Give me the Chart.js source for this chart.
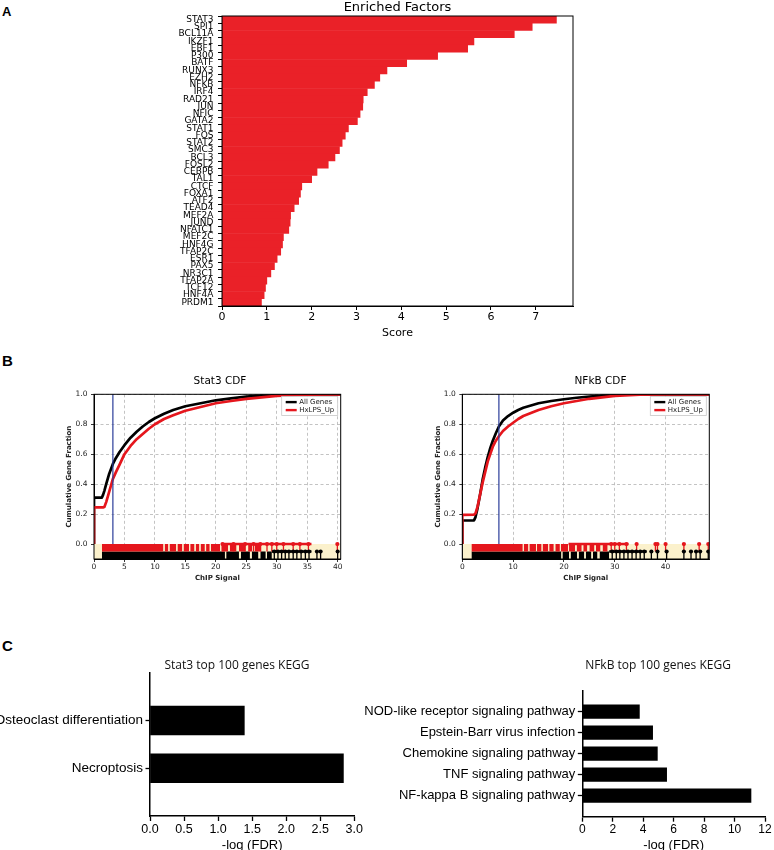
<!DOCTYPE html>
<html>
<head>
<meta charset="utf-8">
<title>Enriched factors, CDF and KEGG</title>
<script src="https://cdn.jsdelivr.net/npm/chart.js@4.4.1/dist/chart.umd.min.js"></script>
<style>
  html, body { margin: 0; padding: 0; background: #fff; }
  body { position: relative; width: 774px; height: 850px; overflow: hidden; }
  .box { position: absolute; }
  .tag { position: absolute; font: bold 15px "Liberation Sans", Arial, sans-serif; line-height: 1; color: #000; }
</style>
</head>
<body>

<div class="tag" style="left:2px;top:5px;font-size:13px">A</div>
<div class="tag" style="left:2px;top:353px">B</div>
<div class="tag" style="left:2px;top:638px">C</div>

<div class="box" style="left:150px;top:0px;width:440px;height:345px"><canvas id="factorChart"></canvas></div>
<div class="box" style="left:40px;top:368px;width:360px;height:218px"><canvas id="stat3Cdf"></canvas></div>
<div class="box" style="left:410px;top:368px;width:381px;height:218px"><canvas id="nfkbCdf"></canvas></div>
<div class="box" style="left:0px;top:640px;width:474px;height:220px"><canvas id="stat3Kegg"></canvas></div>
<div class="box" style="left:360px;top:640px;width:596px;height:220px"><canvas id="nfkbKegg"></canvas></div>

<script>
// ---- data ----

const factorNames = [
    "STAT3", "SPI1", "BCL11A", "IKZF1", "EBF1", "P300", "BATF", "RUNX3",
    "EZH2", "NFKB", "IRF4", "RAD21", "JUN", "NFIC", "GATA2", "STAT1",
    "FOS", "STAT2", "SMC3", "BCL3", "FOSL2", "CEBPB", "TAL1", "CTCF",
    "FOXA1", "ATF2", "TEAD4", "MEF2A", "JUND", "NFATC1", "MEF2C", "HNF4G",
    "TFAP2C", "ESR1", "PAX5", "NR3C1", "TFAP2A", "TCF12", "HNF4A", "PRDM1"
];
const factorScores = [
    7.46, 6.92, 6.52, 5.62, 5.48, 4.81, 4.12, 3.68,
    3.52, 3.40, 3.24, 3.15, 3.14, 3.08, 3.02, 2.82,
    2.75, 2.68, 2.62, 2.52, 2.37, 2.12, 2.00, 1.78,
    1.75, 1.71, 1.61, 1.53, 1.52, 1.49, 1.37, 1.35,
    1.31, 1.23, 1.17, 1.09, 1.00, 0.97, 0.94, 0.88
];
const scoreTicks = [0, 1, 2, 3, 4, 5, 6, 7];

const seriesNames = ["All Genes", "HxLPS_Up"];
const fractionTicks = [0, 0.2, 0.4, 0.6, 0.8, 1.0];

// Stat3 CDF
const stat3Signal = [0, 0, 1.3, 1.5, 1.7, 2.0, 2.5, 3.1, 3.6, 4.2, 5, 6, 7, 8, 9, 10,
    11.5, 13, 15, 17.5, 20, 22.5, 25, 27.5, 30, 35, 40.5];
const stat3AllGenes = [0, 0.31, 0.31, 0.33, 0.355, 0.40, 0.47, 0.535, 0.575, 0.615, 0.66, 0.71, 0.75, 0.785, 0.815, 0.84,
    0.87, 0.895, 0.92, 0.94, 0.96, 0.973, 0.985, 0.993, 0.998, 1, 1];
const stat3HxLpsUp = [0, 0.245, 0.245, 0.245, 0.247, 0.28, 0.35, 0.435, 0.48, 0.53, 0.60, 0.655, 0.70, 0.735, 0.77, 0.80,
    0.835, 0.86, 0.89, 0.915, 0.94, 0.955, 0.97, 0.98, 0.99, 0.998, 1];
const stat3SignalTicks = [0, 5, 10, 15, 20, 25, 30, 35, 40];
const stat3Cutoff = 3.1;
const stat3RedSpans = [[1.3, 11.4], [11.6, 12.2], [12.4, 13.5], [13.7, 14.5], [14.7, 15.6], [15.8, 16.5],
    [16.7, 17.3], [17.5, 18.2], [18.4, 19.0], [19.2, 20.7], [20.9, 22.0], [22.3, 23.4], [23.8, 24.9],
    [25.3, 26.0], [26.4, 27.5]];
const stat3RedTicks = [21.1, 22.9, 24.8, 26.2, 27.3, 28.4, 29.2, 30.0, 31.1, 32.7, 33.8, 35.2, 39.95];
const stat3RedCap = [21.1, 35.7];
const stat3BlackSpans = [[1.3, 21.5], [21.7, 23.8], [24.1, 25.6], [25.9, 27.0], [27.3, 28.2], [28.4, 29.2]];
const stat3BlackTicks = [29.6, 30.2, 30.8, 31.4, 32.0, 32.7, 33.3, 34.0, 34.7, 35.3, 36.6, 37.2, 40.0];
const stat3BlackCap = [29.2, 35.7];

// NFkB CDF
const nfkbSignal = [0, 0, 2.3, 2.6, 3, 3.5, 4, 4.5, 5, 5.5, 6, 6.6, 7.2, 8, 9, 10,
    11, 12, 13.5, 15, 17.5, 20, 22.5, 25, 27.5, 30, 35, 40, 48.6];
const nfkbAllGenes = [0, 0.157, 0.158, 0.18, 0.24, 0.33, 0.43, 0.51, 0.58, 0.64, 0.69, 0.74, 0.785, 0.825, 0.855, 0.877,
    0.895, 0.91, 0.925, 0.94, 0.955, 0.967, 0.977, 0.985, 0.992, 0.997, 1, 1, 1];
const nfkbHxLpsUp = [0, 0.195, 0.196, 0.205, 0.25, 0.33, 0.41, 0.48, 0.55, 0.60, 0.65, 0.69, 0.72, 0.755, 0.785, 0.81,
    0.835, 0.855, 0.875, 0.895, 0.92, 0.94, 0.955, 0.97, 0.98, 0.99, 0.997, 1, 1];
const nfkbSignalTicks = [0, 10, 20, 30, 40];
const nfkbCutoff = 7.2;
const nfkbRedSpans = [[1.8, 11.9], [12.1, 13.0], [13.2, 14.5], [14.7, 15.6], [15.8, 16.9], [17.1, 18.0],
    [18.3, 19.2], [19.4, 20.8], [21.0, 22.2], [22.5, 23.5], [23.8, 24.6], [25.0, 26.0], [26.3, 27.2],
    [27.6, 28.6]];
const nfkbRedTicks = [29.3, 30.0, 30.9, 32.3, 34.3, 38.0, 38.4, 40.0, 43.6, 46.6, 48.4];
const nfkbRedCap = [20.9, 32.7];
const nfkbBlackSpans = [[1.8, 19.5], [19.7, 21.0], [21.3, 22.6], [22.9, 24.0], [24.3, 25.4], [25.7, 26.6], [27.0, 28.9]];
const nfkbBlackTicks = [29.5, 30.3, 31.0, 31.8, 32.6, 33.4, 34.2, 35.0, 35.8, 37.2, 38.4, 40.2, 43.6, 45.0, 46.0, 46.8, 48.4];
const nfkbBlackCap = [28.9, 36.3];

// KEGG
const stat3Pathways = ["Osteoclast differentiation", "Necroptosis"];
const stat3LogFdr = [1.385, 2.84];
const stat3FdrTicks = [0, 0.5, 1.0, 1.5, 2.0, 2.5, 3.0];

const nfkbPathways = [
    "NOD-like receptor signaling pathway",
    "Epstein-Barr virus infection",
    "Chemokine signaling pathway",
    "TNF signaling pathway",
    "NF-kappa B signaling pathway"
];
const nfkbLogFdr = [3.75, 4.62, 4.93, 5.54, 11.08];
const nfkbFdrTicks = [0, 2, 4, 6, 8, 10, 12];

// ---- styling ----

const MPL = '"DejaVu Sans", sans-serif';
const ARIAL = '"Liberation Sans", Arial, sans-serif';
const SOFT = '"Open Sans", sans-serif';

const RED = "#e5161d";
const BLACK = "#000000";
const BLUE = "#2b3d9a";
const BEIGE = "#fbf1cc";

const fixedTicks = values => scale => {
    scale.ticks = values.map(v => ({ value: v }));
};

// box round the plot area, like matplotlib spines
const framePlugin = {
    id: "frame",
    afterDatasetsDraw(chart, args, opts) {
        const { ctx, chartArea: a } = chart;
        ctx.save();
        ctx.strokeStyle = "#000";
        ctx.lineWidth = opts.width || 1;
        ctx.strokeRect(a.left, a.top, a.right - a.left, a.bottom - a.top);
        ctx.restore();
    }
};

// small framed legend inside the upper right corner
const cornerLegend = {
    id: "cornerLegend",
    afterDatasetsDraw(chart, args, opts) {
        if (!opts.items) return;
        const { ctx, chartArea: a } = chart;
        const w = 56, h = 19;
        const x0 = a.right - 3 - w;
        const y0 = a.top + 2.2;
        ctx.save();
        ctx.fillStyle = "rgba(255,255,255,0.92)";
        ctx.fillRect(x0, y0, w, h);
        ctx.strokeStyle = "#c8c8c8";
        ctx.lineWidth = 0.8;
        ctx.strokeRect(x0, y0, w, h);
        ctx.font = "7px " + MPL;
        ctx.textBaseline = "middle";
        opts.items.forEach((it, i) => {
            const y = y0 + 5.6 + i * 8;
            ctx.strokeStyle = it.color;
            ctx.lineWidth = 2.4;
            ctx.beginPath();
            ctx.moveTo(x0 + 4, y);
            ctx.lineTo(x0 + 15, y);
            ctx.stroke();
            ctx.fillStyle = "#222";
            ctx.fillText(it.text, x0 + 17.5, y);
        });
        ctx.restore();
    }
};

Chart.defaults.animation = false;

// ---- A: enriched factors ----

new Chart(document.getElementById("factorChart"), {
    type: "bar",
    data: {
        labels: factorNames,
        datasets: [{
            data: factorScores,
            backgroundColor: "#ea2128",
            barPercentage: 1,
            categoryPercentage: 1,
            borderWidth: 0
        }]
    },
    options: {
        indexAxis: "y",
        responsive: true,
        maintainAspectRatio: false,
        events: [],
        layout: { padding: { left: 0, top: 0, right: 17, bottom: 0 } },
        plugins: {
            legend: { display: false },
            tooltip: { enabled: false },
            title: {
                display: true,
                text: "Enriched Factors",
                fullSize: false,
                color: "#000",
                font: { family: MPL, size: 13, weight: "normal", lineHeight: 1.2 },
                padding: { top: 0, bottom: 0.4 }
            },
            frame: { width: 1 }
        },
        scales: {
            x: {
                type: "linear",
                min: 0,
                max: 7.83,
                afterBuildTicks: fixedTicks(scoreTicks),
                afterFit: s => { s.height = 39; },
                ticks: { font: { family: MPL, size: 11 }, color: "#000", padding: 1 },
                grid: { drawOnChartArea: false, drawTicks: true, tickLength: 4, tickColor: "#000" },
                border: { display: true, color: "#000", width: 1 },
                title: {
                    display: true, text: "Score", color: "#000",
                    font: { family: MPL, size: 11 },
                    padding: { top: 0, bottom: 5.4 }
                }
            },
            y: {
                afterFit: s => { s.width = 72; },
                ticks: { autoSkip: false, font: { family: MPL, size: 9 }, color: "#000", padding: 4.5 },
                grid: { drawOnChartArea: false, drawTicks: true, tickLength: 4, tickColor: "#000" },
                border: { display: true, color: "#000", width: 1 }
            }
        }
    },
    plugins: [framePlugin]
});

// ---- B: CDF panels ----

function rugSpans(spans, top, bottom, color) {
    return spans.map(s => ({
        data: [{ x: s[0], y: top }, { x: s[1], y: top }],
        fill: { value: bottom },
        backgroundColor: color,
        borderWidth: 0,
        pointRadius: 0,
        order: 15
    }));
}

function rugCap(range, y, color) {
    return {
        data: [{ x: range[0], y: y }, { x: range[1], y: y }],
        borderColor: color,
        borderWidth: 2.4,
        pointRadius: 0,
        fill: false,
        order: 12
    };
}

function rugStems(xs, y, color) {
    return {
        data: xs.map(x => ({ x: x, y: y })),
        showLine: false,
        pointStyle: "line",
        pointRotation: 90,
        pointRadius: 3.7,
        pointBorderWidth: 1.3,
        pointBorderColor: color,
        pointBackgroundColor: color,
        order: 13
    };
}

function rugMarkers(xs, y, color) {
    return {
        data: xs.map(x => ({ x: x, y: y })),
        showLine: false,
        pointStyle: "circle",
        pointRadius: 2.1,
        pointBorderWidth: 0,
        pointBackgroundColor: color,
        order: 11
    };
}

function cdfChart(id, c) {

    const curve = (ys, color, order) => ({
        data: c.signal.map((x, i) => ({ x: x, y: ys[i] })),
        borderColor: color,
        backgroundColor: color,
        borderWidth: 2.7,
        pointRadius: 0,
        tension: 0,
        borderJoinStyle: "round",
        fill: false,
        order: order
    });

    const datasets = [
        curve(c.all, BLACK, 4),
        curve(c.up, RED, 3),
        {
            data: [{ x: c.cut, y: 0 }, { x: c.cut, y: 1 }],
            borderColor: BLUE, borderWidth: 1.2, pointRadius: 0, fill: false, order: 1
        },
        {
            data: [{ x: 0, y: 0 }, { x: c.max, y: 0 }],
            fill: { value: -0.1 }, backgroundColor: BEIGE, borderWidth: 0, pointRadius: 0, order: 20
        },
        ...rugSpans(c.redSpans, 0, -0.05, RED),
        ...rugSpans(c.blackSpans, -0.05, -0.1, BLACK),
        rugCap(c.redCap, 0, RED),
        rugCap(c.blackCap, -0.05, BLACK),
        rugStems(c.redTicks, -0.025, RED),
        rugStems(c.blackTicks, -0.075, BLACK),
        rugMarkers(c.redTicks, 0, RED),
        rugMarkers(c.blackTicks, -0.05, BLACK)
    ];

    const tickFont = { family: MPL, size: 7.5 };
    const labelFont = { family: MPL, size: 7, weight: "bold" };
    const gridLook = {
        color: "#b4b4b4", lineWidth: 0.8, drawTicks: true, tickLength: 3,
        tickColor: "#000", tickWidth: 0.8, tickBorderDash: []
    };
    const borderLook = { display: true, color: "#000", width: 1, dash: [3, 2.5] };

    new Chart(document.getElementById(id), {
        type: "line",
        data: { datasets: datasets },
        options: {
            responsive: true,
            maintainAspectRatio: false,
            events: [],
            layout: { padding: 0 },
            plugins: {
                legend: { display: false },
                tooltip: { enabled: false },
                title: {
                    display: true, text: c.title, color: "#000",
                    font: { family: MPL, size: 10.5, weight: "normal", lineHeight: 1.2 },
                    padding: { top: 6.7, bottom: 7 }
                },
                frame: { width: 1 },
                cornerLegend: {
                    items: [
                        { text: seriesNames[0], color: BLACK },
                        { text: seriesNames[1], color: RED }
                    ]
                }
            },
            scales: {
                x: {
                    type: "linear",
                    min: 0,
                    max: c.max,
                    afterBuildTicks: fixedTicks(c.xTicks),
                    afterFit: s => { s.height = 27; },
                    ticks: { font: tickFont, color: "#222", padding: 0.5 },
                    grid: gridLook,
                    border: borderLook,
                    title: {
                        display: true, text: "ChIP Signal", color: "#222",
                        font: labelFont, padding: { top: 0, bottom: 3.8 }
                    }
                },
                y: {
                    type: "linear",
                    min: -0.1,
                    max: 1,
                    afterBuildTicks: fixedTicks(fractionTicks),
                    afterFit: s => { s.width = c.yWidth; },
                    ticks: { font: tickFont, color: "#222", padding: 3.5, callback: v => v.toFixed(1) },
                    grid: gridLook,
                    border: borderLook,
                    title: {
                        display: true, text: "Cumulative Gene Fraction", color: "#222",
                        font: labelFont, padding: { top: c.yTitlePad, bottom: 0 }
                    }
                },
                pad: {
                    type: "linear",
                    position: "right",
                    display: true,
                    grid: { display: false },
                    ticks: { display: false },
                    border: { display: false },
                    afterFit: s => { s.width = c.spacer; }
                }
            }
        },
        plugins: [framePlugin, cornerLegend]
    });
}

cdfChart("stat3Cdf", {
    title: "Stat3 CDF",
    signal: stat3Signal, all: stat3AllGenes, up: stat3HxLpsUp,
    cut: stat3Cutoff, max: 40.5, xTicks: stat3SignalTicks,
    redSpans: stat3RedSpans, redTicks: stat3RedTicks, redCap: stat3RedCap,
    blackSpans: stat3BlackSpans, blackTicks: stat3BlackTicks, blackCap: stat3BlackCap,
    yWidth: 54, yTitlePad: 24.8, spacer: 59.3
});

cdfChart("nfkbCdf", {
    title: "NFkB CDF",
    signal: nfkbSignal, all: nfkbAllGenes, up: nfkbHxLpsUp,
    cut: nfkbCutoff, max: 48.6, xTicks: nfkbSignalTicks,
    redSpans: nfkbRedSpans, redTicks: nfkbRedTicks, redCap: nfkbRedCap,
    blackSpans: nfkbBlackSpans, blackTicks: nfkbBlackTicks, blackCap: nfkbBlackCap,
    yWidth: 52.3, yTitlePad: 24.1, spacer: 81.7
});

// ---- C: KEGG bars ----

function keggChart(id, c) {

    // empty slot above and below, so the bars sit inside the axis
    const labels = [""].concat(c.pathways, [""]);
    const values = [null].concat(c.values, [null]);
    const last = labels.length - 1;

    new Chart(document.getElementById(id), {
        type: "bar",
        data: {
            labels: labels,
            datasets: [{
                data: values,
                backgroundColor: "#000",
                barThickness: c.barThickness,
                borderWidth: 0
            }]
        },
        options: {
            indexAxis: "y",
            responsive: true,
            maintainAspectRatio: false,
            events: [],
            layout: { padding: 0 },
            plugins: {
                legend: { display: false },
                tooltip: { enabled: false },
                title: {
                    display: true, text: c.title, color: "#111",
                    font: { family: SOFT, size: 12, weight: "normal", lineHeight: 1 },
                    padding: { top: 20, bottom: c.titleGap }
                }
            },
            scales: {
                x: {
                    type: "linear",
                    min: 0,
                    max: c.max,
                    afterBuildTicks: fixedTicks(c.ticks),
                    afterFit: s => { s.height = c.xHeight; },
                    ticks: {
                        font: { family: ARIAL, size: c.tickSize }, color: "#000", padding: 1,
                        callback: v => c.decimals ? v.toFixed(1) : String(v)
                    },
                    grid: { drawOnChartArea: false, drawTicks: true, tickLength: 5, tickColor: "#000", tickWidth: 1.3 },
                    border: { display: true, color: "#000", width: 1.5 },
                    title: {
                        display: true, text: "-log (FDR)", color: "#000",
                        font: { family: ARIAL, size: 13 },
                        padding: { top: 0, bottom: 7 }
                    }
                },
                y: {
                    type: "category",
                    offset: false,
                    afterFit: s => { s.width = c.yWidth; },
                    ticks: { autoSkip: false, font: { family: ARIAL, size: c.labelSize }, color: "#000", padding: 2.5 },
                    grid: {
                        offset: false, drawOnChartArea: false, drawTicks: true, tickLength: 4.5, tickWidth: 1.3,
                        tickColor: ctx => (ctx.index === 0 || ctx.index === last) ? "rgba(0,0,0,0)" : "#000"
                    },
                    border: { display: true, color: "#000", width: 1.5 }
                },
                pad: {
                    type: "linear",
                    position: "right",
                    display: true,
                    grid: { display: false },
                    ticks: { display: false },
                    border: { display: false },
                    afterFit: s => { s.width = c.spacer; }
                }
            }
        }
    });
}

keggChart("stat3Kegg", {
    title: "Stat3 top 100 genes KEGG",
    pathways: stat3Pathways, values: stat3LogFdr,
    max: 3, ticks: stat3FdrTicks, decimals: true,
    barThickness: 29, titleGap: 0.7, xHeight: 44,
    yWidth: 150, spacer: 119.7, tickSize: 12.5, labelSize: 13.5
});

keggChart("nfkbKegg", {
    title: "NFkB top 100 genes KEGG",
    pathways: nfkbPathways, values: nfkbLogFdr,
    max: 12, ticks: nfkbFdrTicks, decimals: false,
    barThickness: 13.5, titleGap: 18.7, xHeight: 43.3,
    yWidth: 222.3, spacer: 191, tickSize: 12, labelSize: 13
});
</script>
</body>
</html>
